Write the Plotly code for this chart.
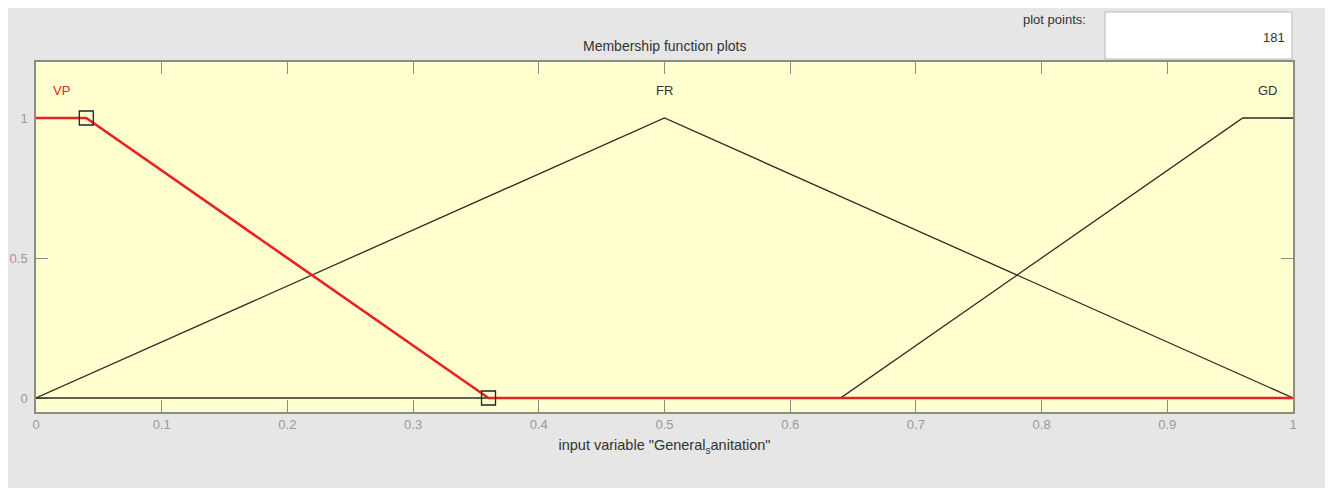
import plotly.graph_objects as go

# Membership function breakpoints (input variable "General_sanitation")
vp_x = [0.0, 0.04, 0.36, 1.0]
vp_y = [1.0, 1.0, 0.0, 0.0]
fr_x = [0.0, 0.5, 1.0]
fr_y = [0.0, 1.0, 0.0]
gd_x = [0.0, 0.64, 0.96, 1.0]
gd_y = [0.0, 0.0, 1.0, 1.0]

# selected MF control points
sel_x = [0.04, 0.36]
sel_y = [1.0, 0.0]

mf_names = ["VP", "FR", "GD"]
label_x = [0.02, 0.5, 0.98]
label_y = [1.1, 1.1, 1.1]
label_colors = ["#e8221e", "#333333", "#333333"]

x_ticks = [0, 0.1, 0.2, 0.3, 0.4, 0.5, 0.6, 0.7, 0.8, 0.9, 1]
x_tick_text = ["0", "0.1", "0.2", "0.3", "0.4", "0.5", "0.6", "0.7", "0.8", "0.9", "1"]
y_ticks = [0, 0.5, 1]
y_tick_text = ["0", "0.5", "1"]

plot_points = "181"

FONT = "Liberation Sans, Arial"
PH = 350.0  # plot-area height in px
PW = 1257.0  # plot-area width in px

fig = go.Figure()
fig.add_trace(go.Scatter(x=gd_x, y=gd_y, mode="lines",
                         line=dict(color="#2b2b22", width=1.3), showlegend=False, hoverinfo="skip"))
fig.add_trace(go.Scatter(x=fr_x, y=fr_y, mode="lines",
                         line=dict(color="#2b2b22", width=1.3), showlegend=False, hoverinfo="skip"))
fig.add_trace(go.Scatter(x=vp_x, y=vp_y, mode="lines",
                         line=dict(color="#e8221e", width=2.6), showlegend=False, hoverinfo="skip"))
fig.add_trace(go.Scatter(x=sel_x, y=sel_y, mode="markers",
                         marker=dict(symbol="square-open", size=14, color="#222222",
                                     line=dict(width=1.3)),
                         showlegend=False, hoverinfo="skip"))

for name, lx, ly, c in zip(mf_names, label_x, label_y, label_colors):
    fig.add_annotation(x=lx, y=ly, text=name, showarrow=False, xref="x", yref="y",
                       font=dict(family=FONT, size=13, color=c))

# title
fig.add_annotation(x=0.5, y=1 + 16 / PH, xref="paper", yref="paper", yanchor="middle",
                   text="Membership function plots", showarrow=False,
                   font=dict(family=FONT, size=14, color="#333333"))
# plot points label and box
fig.add_annotation(x=(1088 - 36) / PW, y=1 + 42 / PH, xref="paper", yref="paper",
                   xanchor="right", yanchor="middle", text="plot points:", showarrow=False,
                   font=dict(family=FONT, size=13, color="#333333"))
fig.add_shape(type="rect", xref="paper", yref="paper",
              x0=(1105 - 36) / PW, x1=(1292 - 36) / PW,
              y0=1 + 3 / PH, y1=1 + 50 / PH,
              fillcolor="#ffffff", line=dict(color="#b8b8b8", width=1))
fig.add_annotation(x=(1287 - 36) / PW, y=1 + 25 / PH, xref="paper", yref="paper",
                   xanchor="right", yanchor="middle", text=plot_points, showarrow=False,
                   font=dict(family=FONT, size=13, color="#333333"))

fig.update_layout(
    width=1325, height=480,
    margin=dict(l=28, r=40, t=54, b=76),
    paper_bgcolor="#e6e6e6",
    plot_bgcolor="#ffffd0",
    font=dict(family=FONT, size=13, color="#999999"),
    xaxis=dict(range=[0, 1], tickvals=x_ticks, ticktext=x_tick_text,
               ticks="inside", ticklen=12, tickcolor="#8c8c80", tickwidth=1,
               showline=True, linecolor="#8c8c80", linewidth=1.5, mirror="ticks",
               showgrid=False, zeroline=False, automargin=False, layer="below traces",
               title=dict(text='input variable "General<sub>s</sub>anitation"',
                          font=dict(size=14.5, color="#333333"), standoff=9)),
    yaxis=dict(range=[-0.05, 1.2], tickvals=y_ticks, ticktext=y_tick_text,
               ticks="inside", ticklen=12, tickcolor="#8c8c80", tickwidth=1,
               showline=True, linecolor="#8c8c80", linewidth=1.5, mirror="ticks",
               showgrid=False, zeroline=False, ticklabelstandoff=4, automargin=False,
               layer="below traces"),
)

fig.write_html("out.html")
